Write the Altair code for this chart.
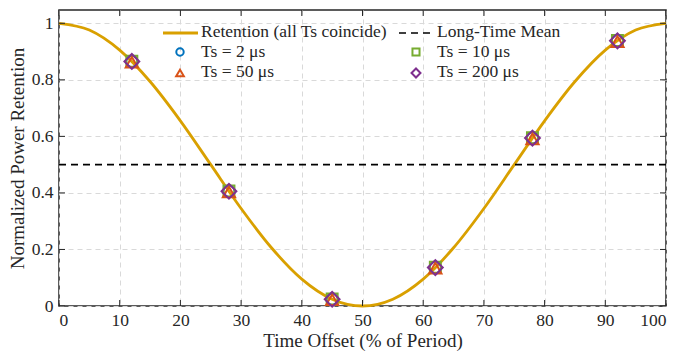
import altair as alt
import pandas as pd

# Curve readings (Time offset %, normalized retention)
curve_x = [0, 5, 10, 15, 20, 25, 30, 35, 40, 45, 50, 55, 60, 65, 70, 75, 80, 85, 90, 95, 100]
curve_y = [1.0, 0.976, 0.905, 0.794, 0.655, 0.5, 0.345, 0.206, 0.095, 0.024, 0.0,
           0.024, 0.095, 0.206, 0.345, 0.5, 0.655, 0.794, 0.905, 0.976, 1.0]

# Sample points (all Ts coincide)
pt_x = [12, 28, 45, 62, 78, 92]
ts2_y = [0.865, 0.406, 0.024, 0.136, 0.594, 0.938]
ts10_y = [0.866, 0.407, 0.025, 0.137, 0.595, 0.939]
ts50_y = [0.862, 0.403, 0.022, 0.134, 0.591, 0.935]
ts200_y = [0.865, 0.406, 0.024, 0.136, 0.594, 0.938]

mean_val = [0.5]
x_ticks = [0, 10, 20, 30, 40, 50, 60, 70, 80, 90, 100]
y_ticks = [0, 0.2, 0.4, 0.6, 0.8, 1.0]

FONT = "Liberation Serif"
AX = "#262626"
GOLD = "#D9A000"
xs = alt.Scale(domain=[0, 100], nice=False, zero=False)
ys = alt.Scale(domain=[0, 1.047], nice=False, zero=False)

curve_df = pd.DataFrame({"x": curve_x, "y": curve_y})
W, H = 607, 296

AXX = alt.Axis(values=x_ticks, grid=True, tickSize=0, domain=False,
               labelPadding=5, title="Time Offset (% of Period)", titlePadding=3,
               labelFont=FONT, titleFont=FONT, labelFontSize=17.5, titleFontSize=19)
AXY = alt.Axis(values=y_ticks, grid=True, tickSize=0, domain=False, format=".1~f",
               labelPadding=6, title="Normalized Power Retention", titlePadding=4,
               labelFont=FONT, titleFont=FONT, labelFontSize=17.5, titleFontSize=19)

def X():
    return alt.X("x:Q", scale=xs, axis=AXX)

def Y():
    return alt.Y("y:Q", scale=ys, axis=AXY)

curve = alt.Chart(curve_df).mark_line(color=GOLD, strokeWidth=2.8, interpolate="monotone").encode(
    x=X(), y=Y())

mean_line = alt.Chart(pd.DataFrame({"y": mean_val})).mark_rule(
    color="black", strokeWidth=1.6, strokeDash=[7, 5]).encode(y=Y())

def pts(yvals, shape, color, size):
    df = pd.DataFrame({"x": pt_x, "y": yvals})
    return alt.Chart(df).mark_point(shape=shape, color=color, filled=False,
                                    strokeWidth=2, size=size, opacity=1).encode(
        x=X(), y=Y())

p2 = pts(ts2_y, "circle", "#0072BD", 130)
p10 = pts(ts10_y, "square", "#77AC30", 120)
p50 = pts(ts50_y, "triangle-up", "#D95319", 150)
p200 = pts(ts200_y, "diamond", "#7E2F8E", 220)

# inward ticks on all four sides
xt_df = pd.DataFrame({"x": x_ticks})
yt_df = pd.DataFrame({"y": y_ticks})
tick_b = alt.Chart(xt_df).mark_rule(color=AX, strokeWidth=1).encode(
    x=X(), y=alt.value(H), y2=alt.value(H - 6))
tick_t = alt.Chart(xt_df).mark_rule(color=AX, strokeWidth=1).encode(
    x=X(), y=alt.value(0), y2=alt.value(6))
tick_l = alt.Chart(yt_df).mark_rule(color=AX, strokeWidth=1).encode(
    y=Y(), x=alt.value(0), x2=alt.value(6))
tick_r = alt.Chart(yt_df).mark_rule(color=AX, strokeWidth=1).encode(
    y=Y(), x=alt.value(W), x2=alt.value(W - 6))

# legend
one = pd.DataFrame({"a": [0]})
def leg_line(x1, x2, y, color, dash=None):
    kw = dict(color=color, strokeWidth=2.8 if dash is None else 1.6)
    if dash is not None:
        kw["strokeDash"] = dash
    return alt.Chart(one).mark_rule(**kw).encode(
        x=alt.value(x1), x2=alt.value(x2), y=alt.value(y))

def leg_sym(x, y, shape, color, size):
    return alt.Chart(one).mark_point(shape=shape, color=color, filled=False,
                                     strokeWidth=2, size=size, opacity=1).encode(
        x=alt.value(x), y=alt.value(y))

def leg_text(x, y, t):
    return alt.Chart(one).mark_text(text=t, align="left", baseline="middle", font=FONT,
                                    fontSize=17.5, color=AX).encode(
        x=alt.value(x), y=alt.value(y))

L = 59
T = 10
legend = [
    leg_line(163 - L, 198 - L, 33 - T, GOLD),
    leg_text(201 - L, 32 - T, "Retention (all Ts coincide)"),
    leg_line(399 - L, 435 - L, 33 - T, "black", [7, 5]),
    leg_text(437 - L, 32 - T, "Long-Time Mean"),
    leg_sym(180 - L, 52 - T, "circle", "#0072BD", 55),
    leg_text(201 - L, 52 - T, "Ts = 2 μs"),
    leg_sym(416 - L, 52 - T, "square", "#77AC30", 50),
    leg_text(437 - L, 52 - T, "Ts = 10 μs"),
    leg_sym(180 - L, 73 - T, "triangle-up", "#D95319", 60),
    leg_text(201 - L, 72 - T, "Ts = 50 μs"),
    leg_sym(416 - L, 73 - T, "diamond", "#7E2F8E", 80),
    leg_text(437 - L, 72 - T, "Ts = 200 μs"),
]

chart = alt.layer(curve, mean_line, p2, p10, p50, p200,
                  tick_b, tick_t, tick_l, tick_r, *legend).properties(
    width=W, height=H,
    autosize=alt.AutoSizeParams(type="none"),
    padding={"left": L - 8, "top": T - 8, "right": 4, "bottom": 48},
    background="white",
).configure_view(stroke=AX, strokeWidth=1.5).configure_axis(
    gridDash=[5, 4], gridColor="#d9d9d9", gridWidth=1,
    labelColor=AX, titleFontWeight="normal", titleColor=AX,
)

chart.save("out.html", embed_options={"renderer": "svg", "actions": False})
